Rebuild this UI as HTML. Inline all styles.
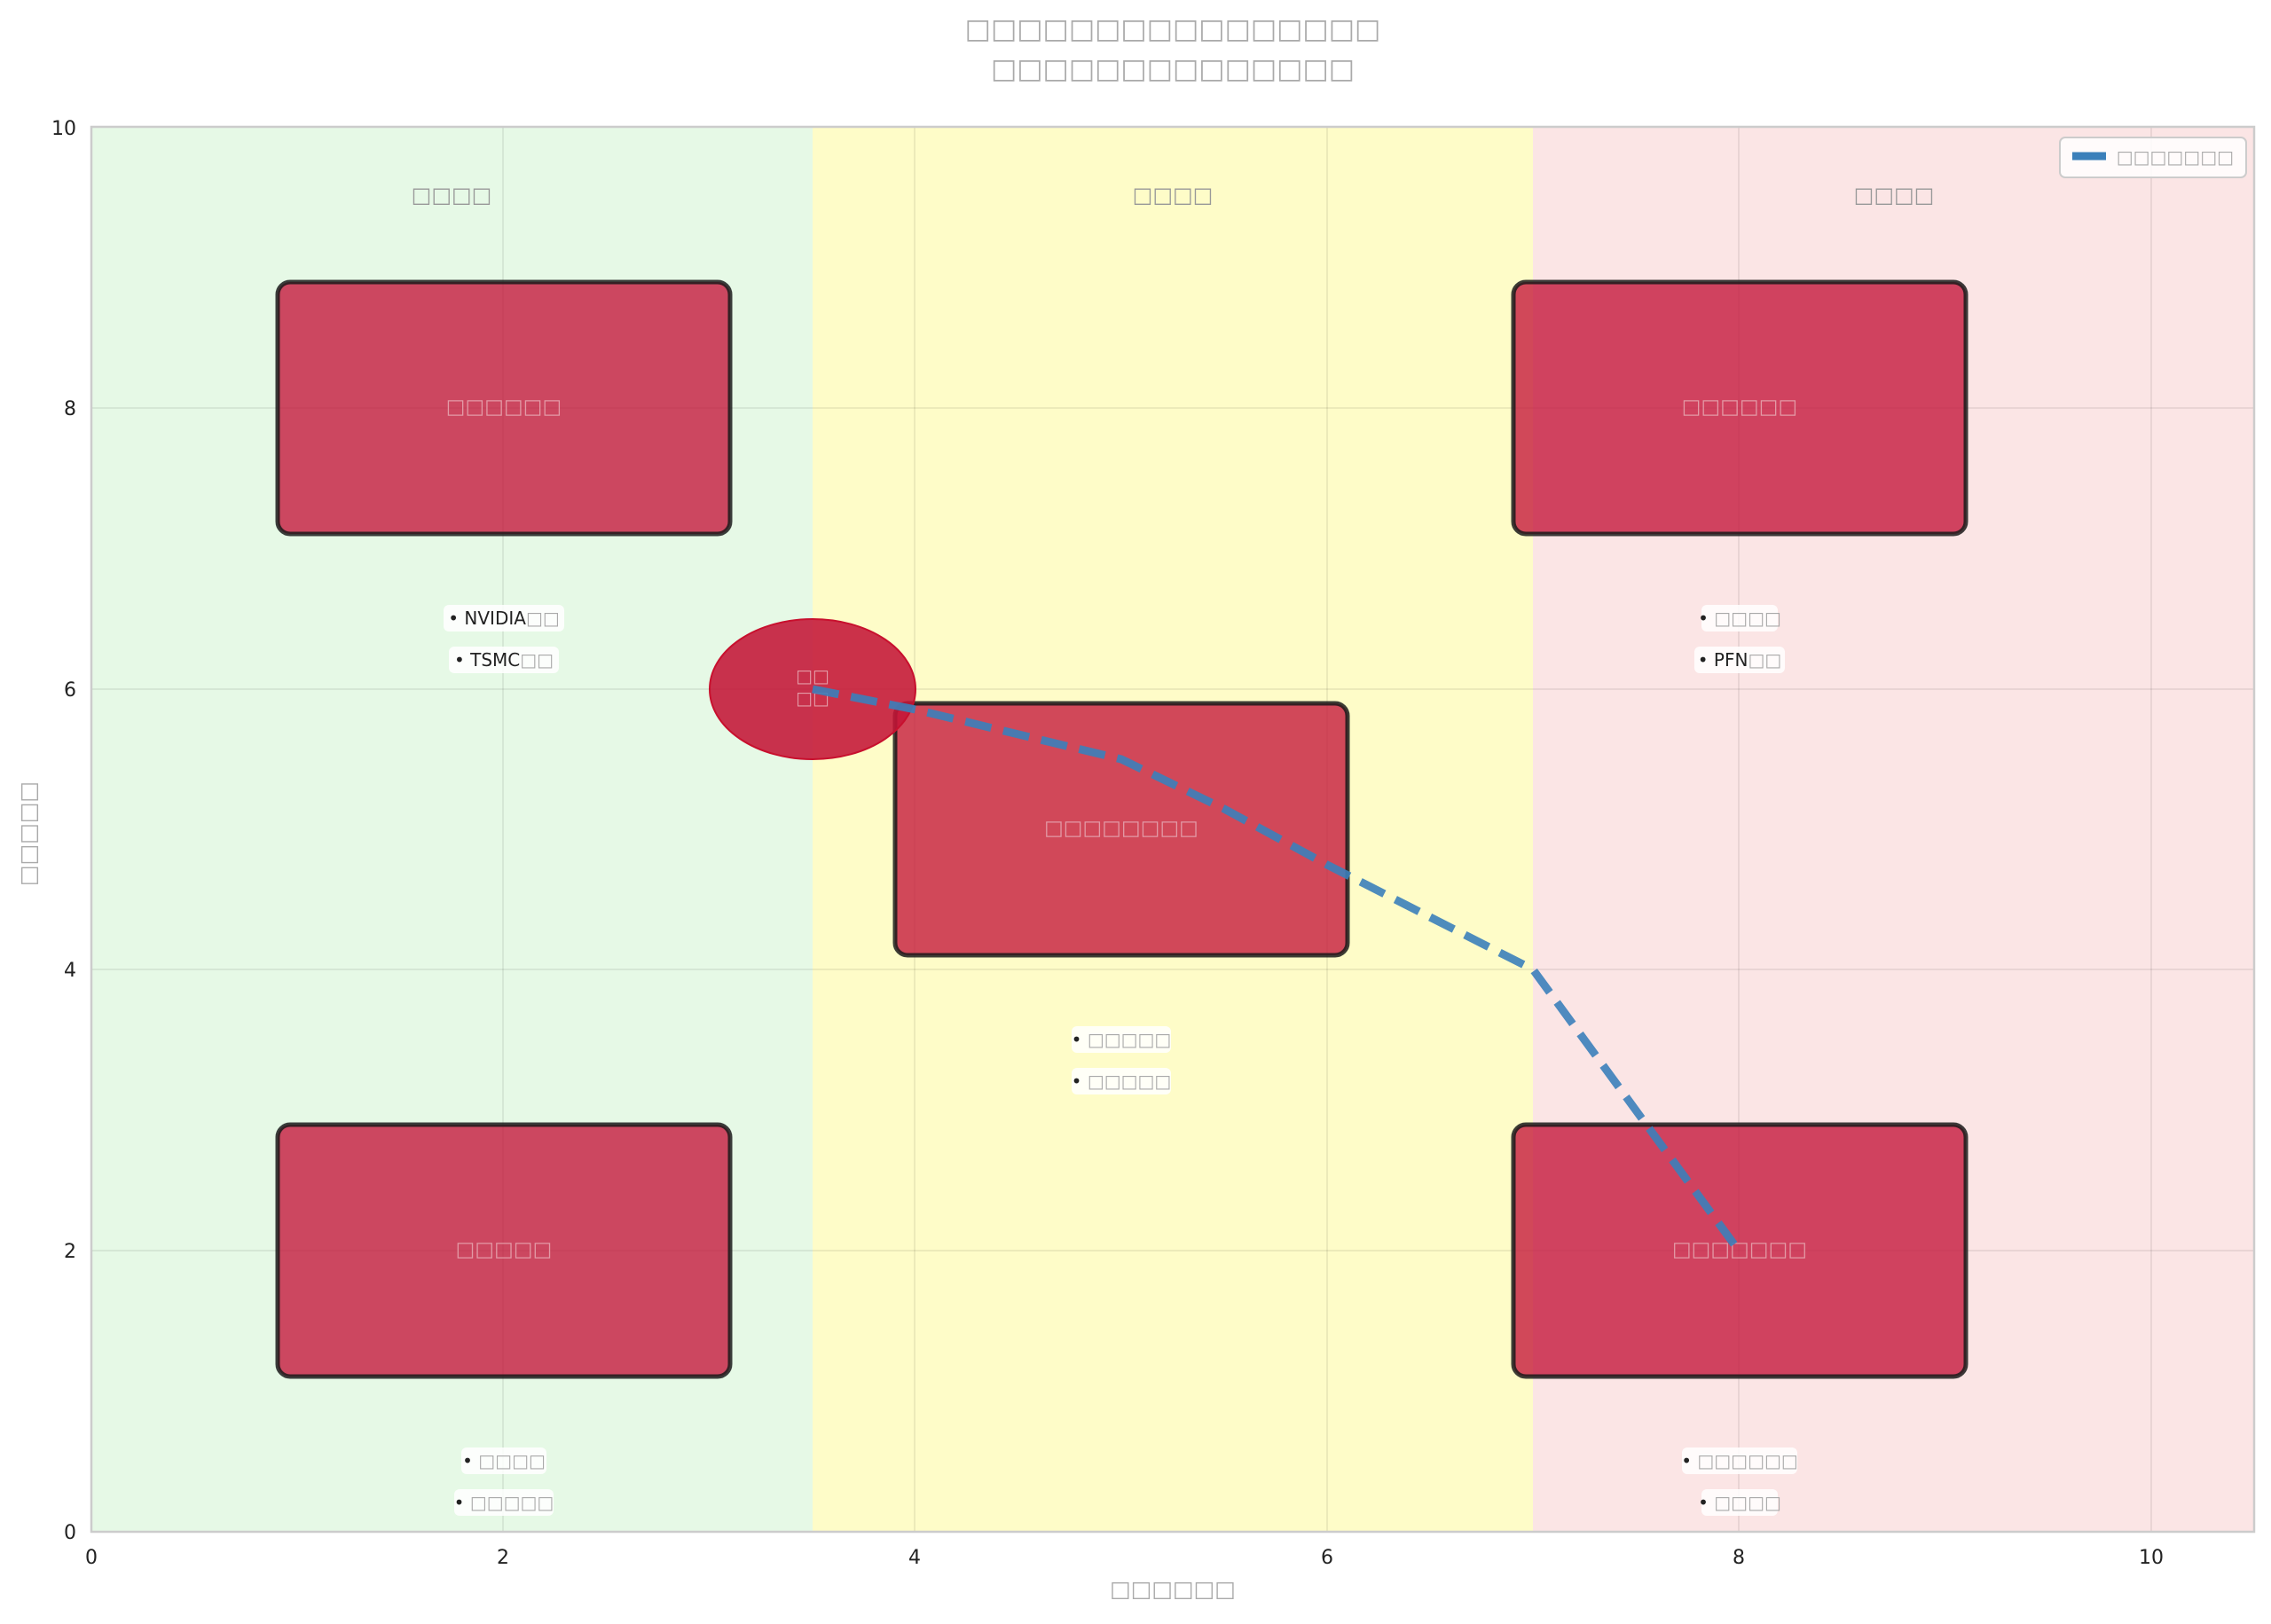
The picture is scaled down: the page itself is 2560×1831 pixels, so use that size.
<!DOCTYPE html>
<html><head><meta charset="utf-8"><style>
body{margin:0;background:#fff}
svg text{font-family:"DejaVu Sans","Liberation Sans",sans-serif}
</style></head><body>
<svg width="2560" height="1826" xmlns="http://www.w3.org/2000/svg">
<rect width="2560" height="1826" fill="#fff"/>
<rect x="103" y="143" width="813" height="1584" fill="#e6f9e6"/>
<rect x="916" y="143" width="812" height="1584" fill="#fefcc8"/>
<rect x="1728" y="143" width="813" height="1584" fill="#fbe5e5"/>
<g stroke="#000" stroke-opacity="0.07" stroke-width="2">
<line x1="567" y1="143" x2="567" y2="1727"/><line x1="1031" y1="143" x2="1031" y2="1727"/>
<line x1="1496" y1="143" x2="1496" y2="1727"/><line x1="1960" y1="143" x2="1960" y2="1727"/>
<line x1="2425" y1="143" x2="2425" y2="1727"/>
<line x1="103" y1="1410" x2="2541" y2="1410"/><line x1="103" y1="1093" x2="2541" y2="1093"/>
<line x1="103" y1="777" x2="2541" y2="777"/><line x1="103" y1="460" x2="2541" y2="460"/>
</g>
<rect x="103" y="143" width="2438" height="1584" fill="none" stroke="#ccc" stroke-width="2.5"/>
<g font-size="24" fill="#999" text-anchor="middle">
<text x="509" y="228">□□□□</text><text x="1322" y="228">□□□□</text><text x="2135" y="228">□□□□</text>
</g>
<g fill="#c4143a" fill-opacity="0.78" stroke="#1a1a1a" stroke-opacity="0.85" stroke-width="5">
<rect x="313" y="318" width="510" height="284" rx="14"/>
<rect x="1706" y="318" width="510" height="284" rx="14"/>
<rect x="1009" y="793" width="510" height="284" rx="14"/>
<rect x="313" y="1268" width="510" height="284" rx="14"/>
<rect x="1706" y="1268" width="510" height="284" rx="14"/>
</g>
<ellipse cx="916" cy="777" rx="116" ry="79" fill="#c41537" fill-opacity="0.88" stroke="#c8102e" stroke-width="2"/>
<g font-size="23" fill="#e39aa6" text-anchor="middle">
<text x="568" y="466">□□□□□□</text><text x="1961" y="466">□□□□□□</text>
<text x="1264" y="941">□□□□□□□□</text>
<text x="568" y="1416">□□□□□</text><text x="1961" y="1416">□□□□□□□</text>
<text x="916" y="769" font-size="20">□□</text><text x="916" y="794" font-size="20">□□</text>
</g>
<polyline points="916,777 1032,800 1264,856 1380,912 1496,975 1728,1093 1850,1260 1960,1410" fill="none" stroke="#3b80ba" stroke-opacity="0.9" stroke-width="9" stroke-dasharray="30,14"/>
<g font-size="20" text-anchor="middle">
<g fill="#fff" fill-opacity="0.85">
<rect x="500" y="682" width="136" height="30" rx="6"/><rect x="506" y="729" width="124" height="30" rx="6"/>
<rect x="1918" y="682" width="86" height="30" rx="6"/><rect x="1910" y="729" width="102" height="30" rx="6"/>
<rect x="1208" y="1157" width="112" height="30" rx="6"/><rect x="1208" y="1204" width="112" height="30" rx="6"/>
<rect x="520" y="1632" width="96" height="30" rx="6"/><rect x="512" y="1679" width="112" height="30" rx="6"/>
<rect x="1896" y="1632" width="130" height="30" rx="6"/><rect x="1918" y="1679" width="86" height="30" rx="6"/>
</g>
<g fill="#222">
<text x="568" y="704">• NVIDIA<tspan fill="#aaa">□□</tspan></text>
<text x="568" y="751">• TSMC<tspan fill="#aaa">□□</tspan></text>
<text x="1961" y="704">• <tspan fill="#aaa">□□□□</tspan></text>
<text x="1961" y="751">• PFN<tspan fill="#aaa">□□</tspan></text>
<text x="1264" y="1179">• <tspan fill="#aaa">□□□□□</tspan></text>
<text x="1264" y="1226">• <tspan fill="#aaa">□□□□□</tspan></text>
<text x="568" y="1654">• <tspan fill="#aaa">□□□□</tspan></text>
<text x="568" y="1701">• <tspan fill="#aaa">□□□□□</tspan></text>
<text x="1961" y="1654">• <tspan fill="#aaa">□□□□□□</tspan></text>
<text x="1961" y="1701">• <tspan fill="#aaa">□□□□</tspan></text>
</g></g>
<rect x="2322" y="155" width="210" height="45" rx="6" fill="#fff" fill-opacity="0.85" stroke="#ccc" stroke-width="2"/>
<line x1="2336" y1="176" x2="2374" y2="176" stroke="#3b80ba" stroke-width="9"/>
<text x="2518" y="184" font-size="20" fill="#aaa" text-anchor="end">□□□□□□□</text>
<g font-size="22" fill="#222" font-family="Liberation Sans,sans-serif" text-anchor="middle">
<text x="103" y="1763">0</text><text x="567" y="1763">2</text><text x="1031" y="1763">4</text>
<text x="1496" y="1763">6</text><text x="1960" y="1763">8</text><text x="2425" y="1763">10</text>
</g>
<g font-size="22" fill="#222" font-family="Liberation Sans,sans-serif" text-anchor="end">
<text x="86" y="1735">0</text><text x="86" y="1418">2</text><text x="86" y="1101">4</text>
<text x="86" y="785">6</text><text x="86" y="468">8</text><text x="86" y="152">10</text>
</g>
<text x="1322" y="1800" font-size="25" fill="#aaa" text-anchor="middle">□□□□□□</text>
<text transform="translate(40,940) rotate(-90)" font-size="25" fill="#aaa" text-anchor="middle">□□□□□</text>
<g font-size="31" fill="#aaa" text-anchor="middle">
<text x="1322" y="43">□□□□□□□□□□□□□□□□</text>
<text x="1322" y="88">□□□□□□□□□□□□□□</text>
</g>
</svg>
</body></html>
